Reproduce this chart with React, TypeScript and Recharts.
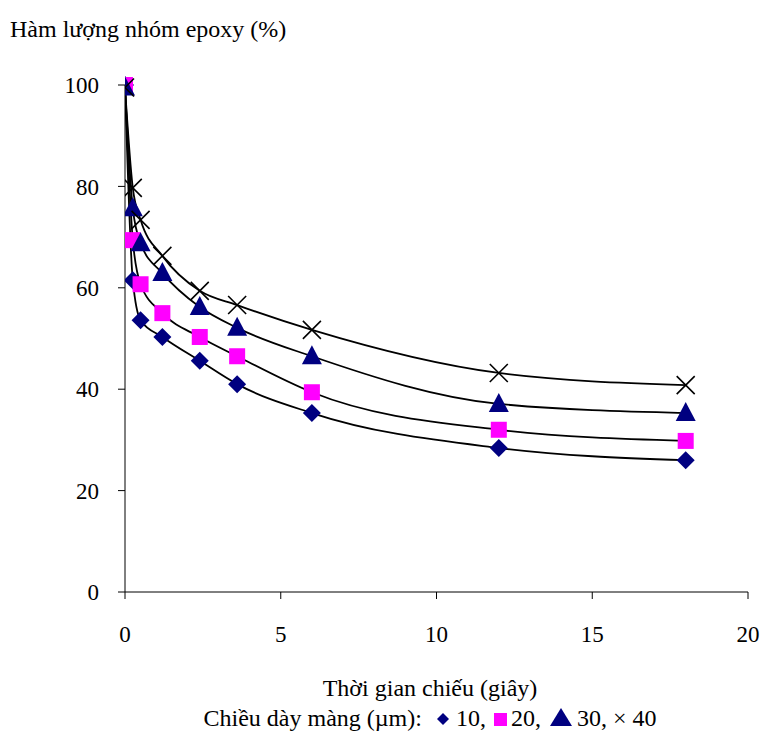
import React from "react";
import { ComposedChart, Line, Scatter, XAxis, YAxis } from "recharts";

const times = [0, 0.25, 0.5, 1.2, 2.4, 3.6, 6, 12, 18];
const film10 = [100, 61.5, 53.6, 50.3, 45.6, 41.0, 35.3, 28.4, 26.0];
const film20 = [100, 69.4, 60.7, 55.0, 50.3, 46.5, 39.4, 32.0, 29.8];
const film30 = [99.5, 75.7, 68.8, 62.9, 56.2, 52.1, 46.5, 37.1, 35.3];
const film40 = [99.5, 79.7, 73.4, 66.3, 59.4, 56.6, 51.7, 43.2, 40.8];
const xTicks = [0, 5, 10, 15, 20];
const yTicks = [0, 20, 40, 60, 80, 100];

const data = times.map((t, i) => ({
  x: t,
  s10: film10[i],
  s20: film20[i],
  s30: film30[i],
  s40: film40[i],
}));

const FONT = '"Liberation Serif", "Times New Roman", serif';
const FS = 24;
const NAVY = "#000080";
const MAGENTA = "#FF00FF";

const Diamond = (p: any) => {
  const { cx, cy } = p;
  if (cx == null || cy == null) return null;
  const r = 9;
  return <path d={`M${cx},${cy - r}L${cx + r},${cy}L${cx},${cy + r}L${cx - r},${cy}Z`} fill={NAVY} />;
};
const Square = (p: any) => {
  const { cx, cy } = p;
  if (cx == null || cy == null) return null;
  const r = 8;
  return <rect x={cx - r} y={cy - r} width={2 * r} height={2 * r} fill={MAGENTA} />;
};
const Triangle = (p: any) => {
  const { cx, cy } = p;
  if (cx == null || cy == null) return null;
  const r = 10;
  return <path d={`M${cx},${cy - r - 1}L${cx + r},${cy + r - 2}L${cx - r},${cy + r - 2}Z`} fill={NAVY} />;
};
const Cross = (p: any) => {
  const { cx, cy } = p;
  if (cx == null || cy == null) return null;
  const r = 9;
  return (
    <path
      d={`M${cx - r},${cy - r}L${cx + r},${cy + r}M${cx - r},${cy + r}L${cx + r},${cy - r}`}
      stroke="#000"
      strokeWidth={1.6}
      fill="none"
    />
  );
};

const tickStyle = { fontFamily: FONT, fontSize: 23, fill: "#000" };

export default function App() {
  return (
    <div style={{ position: "absolute", left: 0, top: 0, width: 760, height: 731, background: "#fff" }}>
      <ComposedChart
        width={760}
        height={731}
        data={data}
        margin={{ top: 85, right: 12, bottom: 0, left: 0 }}
      >
        <XAxis
          dataKey="x"
          type="number"
          domain={[0, 20]}
          ticks={xTicks}
          axisLine={{ stroke: "#000" }}
          tickLine={{ stroke: "#000" }}
          tickSize={7}
          tickMargin={27}
          tick={tickStyle}
          height={139}
          allowDataOverflow
        />
        <YAxis
          type="number"
          domain={[0, 100]}
          ticks={yTicks}
          axisLine={{ stroke: "#000" }}
          tickLine={{ stroke: "#000" }}
          tickSize={7}
          tickMargin={19}
          tick={tickStyle}
          width={125}
        />
        <Scatter dataKey="s10" shape={Diamond} isAnimationActive={false} />
        <Scatter dataKey="s20" shape={Square} isAnimationActive={false} />
        <Scatter dataKey="s30" shape={Triangle} isAnimationActive={false} />
        <Scatter dataKey="s40" shape={Cross} isAnimationActive={false} />
        <Line dataKey="s10" type="monotone" stroke="#000" strokeWidth={1.8} dot={false} isAnimationActive={false} />
        <Line dataKey="s20" type="monotone" stroke="#000" strokeWidth={1.8} dot={false} isAnimationActive={false} />
        <Line dataKey="s30" type="monotone" stroke="#000" strokeWidth={1.8} dot={false} isAnimationActive={false} />
        <Line dataKey="s40" type="monotone" stroke="#000" strokeWidth={1.8} dot={false} isAnimationActive={false} />
      </ComposedChart>
      <div style={{ position: "absolute", left: 10, top: 15, fontFamily: FONT, fontSize: FS, whiteSpace: "nowrap", lineHeight: "28px" }}>
        Hàm lượng nhóm epoxy (%)
      </div>
      <div
        style={{
          position: "absolute",
          left: 130,
          width: 600,
          top: 674,
          textAlign: "center",
          fontFamily: FONT,
          fontSize: FS,
          lineHeight: "28px",
          whiteSpace: "nowrap",
        }}
      >
        Thời gian chiếu (giây)
      </div>
      <div
        style={{
          position: "absolute",
          left: 130,
          width: 600,
          top: 704,
          textAlign: "center",
          fontFamily: FONT,
          fontSize: FS,
          lineHeight: "28px",
          whiteSpace: "nowrap",
        }}
      >
        Chiều dày màng (µm):
        <svg width={14} height={14} style={{ verticalAlign: "0px", marginLeft: 14, marginRight: 6 }}>
          <path d="M7,1L13,7L7,13L1,7Z" fill={NAVY} />
        </svg>
        10,
        <svg width={13} height={13} style={{ verticalAlign: "0px", marginLeft: 8, marginRight: 4 }}>
          <rect x={0} y={0} width={13} height={13} fill={MAGENTA} />
        </svg>
        20,
        <svg width={24} height={20} style={{ verticalAlign: "-1px", marginLeft: 8, marginRight: 4 }}>
          <path d="M12,1L23,19L1,19Z" fill={NAVY} />
        </svg>
        30, × 40
      </div>
    </div>
  );
}
